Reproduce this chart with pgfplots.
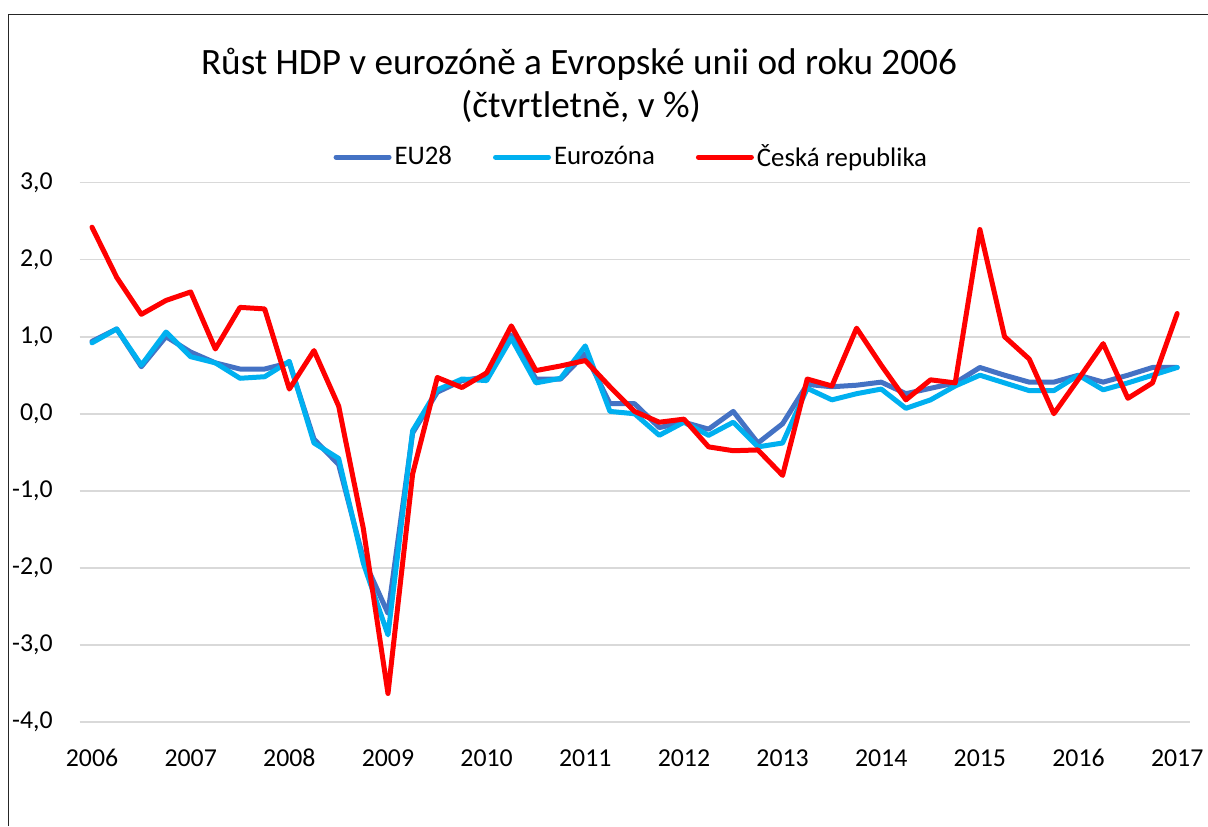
\documentclass[border=0pt]{standalone}
\usepackage{pgfplots}
\pgfplotsset{compat=1.18}
\usepackage{fontspec}
\setmainfont{Carlito}
\definecolor{eublue}{HTML}{4472C4}
\definecolor{ezblue}{HTML}{00B0F0}
\definecolor{czred}{HTML}{FF0000}
\definecolor{gridgray}{HTML}{D9D9D9}
\pgfplotstableread{
i eu ez cz
0 0.94 0.92 2.42
1 1.10 1.10 1.77
2 0.61 0.63 1.29
3 1.00 1.06 1.47
4 0.80 0.74 1.58
5 0.66 0.66 0.84
6 0.58 0.46 1.38
7 0.58 0.48 1.36
8 0.66 0.68 0.32
9 -0.33 -0.38 0.82
10 -0.66 -0.58 0.10
11 -1.88 -1.94 -1.49
12 -2.59 -2.87 -3.63
13 -0.25 -0.22 -0.78
14 0.28 0.31 0.47
15 0.43 0.45 0.34
16 0.48 0.43 0.53
17 1.02 0.98 1.14
18 0.45 0.40 0.56
19 0.45 0.46 0.62
20 0.78 0.88 0.69
21 0.13 0.03 0.35
22 0.13 0.00 0.03
23 -0.18 -0.28 -0.11
24 -0.11 -0.11 -0.07
25 -0.20 -0.28 -0.43
26 0.03 -0.11 -0.48
27 -0.38 -0.43 -0.47
28 -0.13 -0.38 -0.80
29 0.38 0.33 0.45
30 0.35 0.18 0.36
31 0.37 0.26 1.11
32 0.41 0.32 0.63
33 0.26 0.07 0.18
34 0.33 0.18 0.44
35 0.40 0.36 0.40
36 0.60 0.50 2.39
37 0.50 0.40 1.00
38 0.41 0.30 0.71
39 0.41 0.30 0.00
40 0.50 0.50 0.45
41 0.41 0.31 0.91
42 0.50 0.40 0.20
43 0.60 0.50 0.40
44 0.60 0.60 1.30
}\gdpdata
\begin{document}
\begin{tikzpicture}
\useasboundingbox (0pt,0pt) rectangle (604pt,413pt);
\fill[white] (0pt,0pt) rectangle (604pt,413pt);
\draw[line width=0.7pt, black!85] (4.15pt,0pt) -- (4.15pt,405.85pt) -- (604pt,405.85pt);
\node[anchor=base, font=\fontsize{18.6}{21}\selectfont, inner sep=0pt] at (289.5pt,375.5pt) {Růst HDP v eurozóně a Evropské unii od roku 2006};
\node[anchor=base, font=\fontsize{18.6}{21}\selectfont, inner sep=0pt] at (290.5pt,354pt) {(čtvrtletně, v \%)};
\begin{axis}[
  at={(39.85pt,52pt)}, anchor=south west,
  scale only axis, width=554.9pt, height=269.75pt,
  xmin=-0.5, xmax=44.5, ymin=-4, ymax=3,
  axis line style={draw=none},
  major tick length=0pt,
  xtick={0,4,...,44},
  xticklabels={2006,2007,2008,2009,2010,2011,2012,2013,2014,2015,2016,2017},
  ytick={-4,-3,-2,-1,0,1,2,3},
  yticklabels={{-4,0},{-3,0},{-2,0},{-1,0},{0,0},{1,0},{2,0},{3,0}},
  /pgf/number format/assume math mode=true,
  ticklabel style={font=\fontsize{12.9}{15}\selectfont},
  yticklabel style={anchor=east, inner sep=0pt, xshift=-13.3pt},
  xticklabel style={anchor=base, inner sep=0pt, yshift=-22pt},
  ymajorgrids, grid style={gridgray, line width=0.9pt},
  legend columns=3,
  legend style={at={(0.4975,1.047)}, anchor=center, draw=none, fill=none,
    font=\fontsize{13.4}{15}\selectfont,
    /tikz/every even column/.append style={column sep=19pt},
    nodes={inner sep=1.5pt}},
  legend image code/.code={\draw[#1, line cap=round] (0pt,0pt) -- (26.5pt,0pt);},
  every axis plot/.append style={line width=2.5pt, line join=round, line cap=round},
]
\addplot[eublue] table[x=i, y=eu] {\gdpdata};
\addlegendentry{EU28}
\addplot[ezblue] table[x=i, y=ez] {\gdpdata};
\addlegendentry{Eurozóna}
\addplot[czred] table[x=i, y=cz] {\gdpdata};
\addlegendentry{Česká republika}
\end{axis}
\end{tikzpicture}
\end{document}
